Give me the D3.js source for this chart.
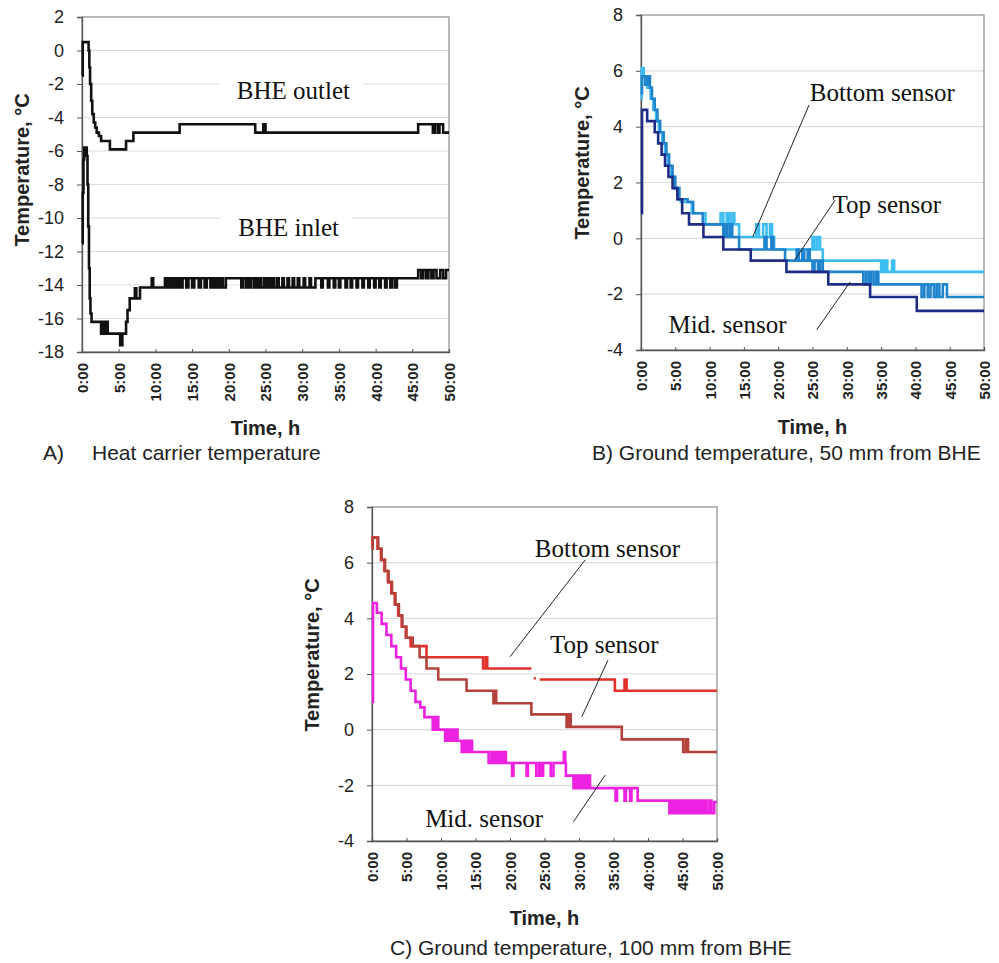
<!DOCTYPE html>
<html><head><meta charset="utf-8">
<script src="https://cdn.jsdelivr.net/npm/d3@7"></script>
<style>
body{margin:0;background:#fff}
svg text{font-family:Arial,"Liberation Sans",sans-serif}
</style></head><body>
<svg id="chart" width="999" height="963"></svg>
<script>
// ---------- data ----------
const timeTicks = [0,5,10,15,20,25,30,35,40,45,50];
const timeLabels = ["0:00","5:00","10:00","15:00","20:00","25:00","30:00","35:00","40:00","45:00","50:00"];
const tempTicksA = [2,0,-2,-4,-6,-8,-10,-12,-14,-16,-18];
const tempTicksBC = [8,6,4,2,0,-2,-4];

// Panel A: heat carrier temperature [time h, °C]
const outletA = [[0,-1.5],[0.1,0.5],[0.9,0.0],[1.0,-1.0],[1.1,-2.0],[1.25,-3.0],[1.4,-3.8],[1.6,-4.3],[1.8,-4.6],[2.0,-4.9],[2.3,-5.1],[2.6,-5.4],
 [3.8,-5.9],[6.0,-5.4],[7.0,-4.9],[13.3,-4.4],[23.6,-4.9],[24.7,-4.4],[25.0,-4.9],[45.8,-4.4],[47.8,-4.9],[48.1,-4.4],[48.5,-4.9],[48.7,-4.4],[49.2,-4.9],[50,-4.9]];
const inletA = [[0,-11.5],[0.1,-8.5],[0.2,-6.5],[0.3,-5.8],[0.65,-6.3],[0.75,-8],[0.85,-10.5],[0.95,-13],[1.05,-14.8],[1.15,-15.7],[1.3,-16.2],
 [2.6,-16.9],[2.9,-16.2],[3.1,-16.9],[3.3,-16.2],[3.5,-16.9],[5.2,-17.6],[5.5,-16.9],[6.0,-16.2],[6.2,-15.5],[6.5,-14.8],[7.2,-14.2],[7.4,-14.8],[7.9,-14.15],
 [9.5,-13.6],[9.7,-14.15],
 [11.3,-13.6],[11.5,-14.15],[11.7,-13.6],[11.9,-14.15],[12.0,-13.6],[12.3,-14.15],[12.5,-13.6],[12.6,-14.15],[12.8,-13.6],[13.1,-14.15],[13.3,-13.6],[13.6,-14.15],
 [13.7,-13.6],[14.2,-14.15],[14.5,-13.6],[15.0,-14.15],[15.3,-13.6],[15.9,-14.15],[16.2,-13.6],[16.7,-14.15],[17.0,-13.6],[17.5,-14.15],[17.8,-13.6],[18.1,-14.15],[18.4,-13.6],[18.6,-14.15],[18.9,-13.6],[19.2,-14.15],[19.6,-13.6],[21.7,-14.15],
 [21.9,-13.6],[22.3,-14.15],[22.5,-13.6],[22.8,-14.15],[23.0,-13.6],[23.4,-14.15],[23.6,-13.6],[23.9,-14.15],[24.1,-13.6],[24.4,-14.15],
 [24.8,-13.6],[25.1,-14.15],[25.4,-13.6],[25.6,-14.15],[25.9,-13.6],[26.2,-14.15],[26.6,-13.6],[26.8,-14.15],[27.3,-13.6],[27.5,-14.15],[28.0,-13.6],[28.2,-14.15],[28.7,-13.6],[28.9,-14.15],[29.4,-13.6],[29.6,-14.15],
 [30.2,-13.6],[30.4,-14.15],[31.0,-13.6],[31.2,-14.15],
 [31.8,-13.6],[32.6,-14.15],[32.8,-13.6],[33.5,-14.15],[33.7,-13.6],[34.3,-14.15],[34.5,-13.6],[35.0,-14.15],[35.2,-13.6],[35.9,-14.15],[36.1,-13.6],[36.6,-14.15],[36.8,-13.6],[37.4,-14.15],[37.6,-13.6],[38.2,-14.15],[38.4,-13.6],[39.0,-14.15],[39.2,-13.6],[39.8,-14.15],[40.0,-13.6],[40.5,-14.15],[40.7,-13.6],[41.3,-14.15],[41.5,-13.6],[42.0,-14.15],[42.2,-13.6],[42.6,-14.15],
 [42.9,-13.6],[45.8,-13.1],[46.2,-13.6],[46.5,-13.1],[46.9,-13.6],[47.2,-13.1],[47.6,-13.6],[47.9,-13.1],[48.3,-13.6],[48.8,-13.1],[49.2,-13.6],[49.6,-13.1],[50,-13.1]];

// Panel B: ground temperature 50 mm from BHE
const bottomB = [[0,5.0],[0.1,6.1],[0.4,5.8],[0.9,5.4],[1.4,5.0],[1.8,4.6],[2.2,4.2],[2.6,3.8],[3.1,3.4],[3.5,3.0],[3.9,2.6],[4.4,2.2],[4.8,1.8],[5.3,1.4],[5.8,1.3],[6.4,1.3],[7.4,0.9],
 [9.4,0.5],[11.6,0.9],[12.0,0.5],[12.5,0.9],[12.8,0.5],[13.2,0.9],[13.6,0.5],[14.3,0.05],[16.8,0.5],[17.2,0.05],[17.8,0.5],[18.3,0.05],[18.8,0.5],[19.1,0.05],
 [19.4,-0.4],[25.0,0.05],[25.3,-0.4],[25.7,0.05],[26.1,-0.4],[26.5,-0.8],[35.0,-1.2],[35.3,-0.8],[35.5,-1.2],[35.7,-0.8],[35.9,-1.2],[36.6,-0.8],[36.9,-1.2],[50,-1.2]];
const topB = [[0,5.2],[0.15,5.8],[0.6,5.5],[1.0,5.8],[1.3,5.4],[1.6,5.0],[2.0,4.6],[2.4,4.2],[2.8,3.8],[3.3,3.4],[3.7,3.0],[4.1,2.6],[4.6,2.2],[5.0,1.8],[5.6,1.4],[6.8,1.3],[7.6,0.9],
 [9.0,0.5],[12.0,0.05],[12.3,0.5],[12.6,0.05],[13.0,0.5],[13.3,0.05],[14.3,-0.4],[18.0,0.05],[18.3,-0.4],[19.0,0.05],[19.3,-0.4],[21.0,-0.8],[22.7,-0.4],[23.0,-0.8],[23.5,-0.4],[23.8,-0.8],[24.3,-0.4],[24.6,-0.8],
 [25.0,-1.2],[25.3,-0.8],[25.8,-1.2],[26.1,-0.8],[26.5,-1.2],[32.4,-1.65],[32.8,-1.2],[33.2,-1.65],[33.5,-1.2],[33.9,-1.65],[34.3,-1.2],[34.6,-1.65],
 [40.9,-2.1],[41.3,-1.65],[41.8,-2.1],[42.2,-1.65],[42.7,-2.1],[43.1,-1.65],[43.5,-2.1],[44.0,-1.65],[44.6,-2.1],[50,-2.1]];
const midB = [[0,0.9],[0.15,4.6],[0.9,4.2],[2.0,3.8],[2.5,3.4],[3.0,3.0],[3.5,2.6],[4.0,2.2],[4.6,1.8],[5.3,1.4],[6.0,0.9],[7.0,0.5],[9.1,0.05],[12.0,-0.4],[16.0,-0.8],[21.2,-1.2],[27.3,-1.65],[33.4,-2.1],[40.2,-2.6],[50,-2.6]];

// Panel C: ground temperature 100 mm from BHE (null = missing reading)
const bottomC = [[0,6.5],[0.1,6.9],[0.8,6.5],[1.3,6.1],[1.8,5.7],[2.3,5.3],[2.8,4.9],[3.3,4.5],[3.8,4.1],[4.3,3.7],[4.9,3.3],[5.6,3.0],[7.9,2.6],
 [16.1,2.2],[16.5,2.6],[16.7,2.2],[23.1,2.2],[23.15,null],[23.45,1.85],[23.75,1.85],[23.8,null],[24.3,1.8],[35.2,1.4],[36.6,1.8],[36.9,1.4],[50,1.4]];
const topC = [[0,6.5],[0.1,6.9],[0.9,6.5],[1.4,6.1],[1.9,5.7],[2.4,5.3],[2.9,4.9],[3.4,4.5],[3.9,4.1],[4.4,3.7],[5.0,3.3],[5.9,3.0],[6.9,2.6],[7.9,2.2],
 [9.6,1.8],[13.7,1.4],[17.6,0.95],[17.8,1.4],[18.0,0.95],[23.1,0.55],[28.2,0.1],[28.5,0.55],[28.8,0.1],[36.2,-0.35],[45.1,-0.8],[45.5,-0.35],[45.8,-0.8],[50,-0.8]];
const midC = [[0,1.0],[0.15,4.55],[0.7,4.2],[1.4,3.8],[2.1,3.4],[2.8,3.0],[3.5,2.6],[4.2,2.2],[4.9,1.8],[5.6,1.4],[6.3,1.0],[7.0,0.8],[7.6,0.45],
 [8.8,0.0],[9.0,0.45],[9.2,0.0],[9.4,0.45],[9.6,0.0],[10.6,-0.4],[10.9,0.0],[11.2,-0.4],[11.5,0.0],[11.8,-0.4],[12.1,0.0],[12.4,-0.4],
 [13.0,-0.8],[13.2,-0.4],[13.5,-0.8],[13.7,-0.4],[14.0,-0.8],[14.3,-0.4],[14.5,-0.8],[16.9,-1.2],[17.3,-0.8],[17.6,-1.2],[17.9,-0.8],[18.2,-1.2],[18.5,-0.8],[18.8,-1.2],[19.1,-0.8],[19.4,-1.2],
 [20.3,-1.65],[20.5,-1.2],[22.4,-1.65],[22.6,-1.2],[23.8,-1.65],[24.2,-1.2],[24.5,-1.65],[24.8,-1.2],[25.9,-1.65],[26.3,-1.2],[27.8,-0.8],[28.0,-1.2],[28.1,-1.65],
 [29.2,-2.1],[29.5,-1.65],[29.8,-2.1],[30.1,-1.65],[30.4,-2.1],[30.7,-1.65],[31.0,-2.1],[31.3,-1.65],[31.6,-2.1],
 [35.3,-2.55],[35.5,-2.1],[36.6,-2.55],[36.8,-2.1],[37.4,-2.55],[37.6,-2.1],[38.5,-2.55],
 [43.1,-3.0],[43.4,-2.55],[43.7,-3.0],[44.0,-2.55],[44.3,-3.0],[44.6,-2.55],[44.9,-3.0],[45.2,-2.55],[45.5,-3.0],[45.8,-2.55],[46.1,-3.0],[46.4,-2.55],[46.7,-3.0],[47.0,-2.55],[47.3,-3.0],[47.6,-2.55],[47.9,-3.0],[48.2,-2.55],[48.5,-3.0],[48.9,-2.55],[49.2,-3.0],[49.6,-2.6],[50,-2.6]];

// ---------- drawing ----------
const svg = d3.select("#chart");
const serif = '"Liberation Serif","Times New Roman",serif';

function panel(o){
  const x = d3.scaleLinear().domain([0,50]).range([o.left,o.right]);
  const y = d3.scaleLinear().domain([o.ticks[o.ticks.length-1], o.ticks[0]]).range([o.bottom,o.top]);
  const g = svg.append("g");
  // gridlines
  g.selectAll("line.grid").data(o.ticks.slice(1,-1)).enter().append("line")
    .attr("x1",o.left).attr("x2",o.right).attr("y1",d=>y(d)).attr("y2",d=>y(d))
    .attr("stroke","#dcdcdc").attr("stroke-width",1.2);
  // plot frame
  g.append("rect").attr("x",o.left).attr("y",o.top).attr("width",o.right-o.left).attr("height",o.bottom-o.top)
    .attr("fill","none").attr("stroke","#8a8a8a").attr("stroke-width",1.2);
  // y axis
  const ya = g.append("g").attr("transform",`translate(${o.left},0)`)
    .call(d3.axisLeft(y).tickValues(o.ticks).tickSize(5).tickPadding(13).tickFormat(d=>String(d)));
  ya.select(".domain").attr("stroke","#555").attr("stroke-width",1.3);
  ya.selectAll(".tick line").attr("stroke","#555");
  ya.selectAll("text").attr("font-size",18).attr("fill","#222").style("font-family","Arial,'Liberation Sans',sans-serif");
  // x axis
  const xa = g.append("g").attr("transform",`translate(0,${o.bottom})`)
    .call(d3.axisBottom(x).tickValues(timeTicks).tickSize(-3).tickFormat((d,i)=>timeLabels[i]));
  xa.select(".domain").attr("stroke","#555").attr("stroke-width",1.3);
  xa.selectAll(".tick line").attr("stroke","#555");
  xa.selectAll("text").attr("transform","rotate(-90)").attr("x",-11).attr("y",0).attr("dy","0.36em")
    .attr("text-anchor","end").attr("font-size",15).attr("font-weight","bold").attr("fill","#222")
    .style("font-family","Arial,'Liberation Sans',sans-serif");
  // axis titles
  g.append("text").attr("transform",`translate(${o.ytx},${o.yty}) rotate(-90)`).attr("text-anchor","middle")
    .attr("dy","0.35em").attr("font-size",20).attr("font-weight","bold").attr("fill","#222").text("Temperature, °C");
  g.append("text").attr("x",(o.left+o.right)/2).attr("y",o.xty).attr("text-anchor","middle")
    .attr("font-size",20).attr("font-weight","bold").attr("fill","#222").text("Time, h");
  // series
  const line = d3.line().defined(d=>d[1]!==null).x(d=>x(d[0])).y(d=>y(d[1])).curve(d3.curveStepAfter);
  const sg = g.append("g");
  o.series.forEach(s=>{
    sg.append("path").datum(s.data).attr("d",line).attr("fill","none")
      .attr("stroke",s.color).attr("stroke-width",s.w||2.6).attr("stroke-linejoin","miter");
  });
  // annotations
  o.notes.forEach(n=>{
    if(n.lead){
      g.append("line").attr("x1",x(n.lead[0])).attr("y1",y(n.lead[1])).attr("x2",x(n.lead[2])).attr("y2",y(n.lead[3]))
        .attr("stroke","#222").attr("stroke-width",1);
    }
    const t = g.append("text").attr("x",x(n.t)).attr("y",y(n.v)).attr("font-size",25)
      .style("font-family",serif).attr("fill","#111").text(n.text);
    if(n.box){
      const b = t.node().getBBox();
      g.insert("rect",()=>t.node()).attr("x",b.x-17).attr("y",b.y-2).attr("width",b.width+30).attr("height",b.height+4).attr("fill","#fff");
    }
  });
  return g;
}

panel({left:82,right:449,top:17,bottom:352,ticks:tempTicksA,ytx:22,yty:170,xty:435,
  series:[{data:outletA,color:"#111"},{data:inletA,color:"#111"}],
  notes:[{text:"BHE outlet",t:21.1,v:-2.9,box:true},{text:"BHE inlet",t:21.3,v:-11.05,box:true}]});

panel({left:641,right:984,top:15,bottom:350,ticks:tempTicksBC,ytx:582,yty:163,xty:434,
  series:[{data:bottomB,color:"#3dbdf0"},{data:topB,color:"#1f84cc"},{data:midB,color:"#1f2c86"}],
  notes:[{text:"Bottom sensor",t:24.6,v:4.92,lead:[24.5,4.78,16.3,0.06]},
         {text:"Top sensor",t:27.9,v:0.9,lead:[28.3,1.37,22.4,-0.78]},
         {text:"Mid. sensor",t:4.0,v:-3.4,lead:[25.6,-3.28,30.5,-1.56]}]});

panel({left:372,right:717,top:507,bottom:841,ticks:tempTicksBC,ytx:312,yty:655,xty:925,
  series:[{data:bottomC,color:"#e2302a"},{data:topC,color:"#b5423a"},{data:midC,color:"#ec22e0"}],
  notes:[{text:"Bottom sensor",t:23.6,v:6.21,lead:[30.9,6.1,20.0,2.62]},
         {text:"Top sensor",t:25.8,v:2.76,lead:[34.2,2.5,30.4,0.46]},
         {text:"Mid. sensor",t:7.7,v:-3.49,lead:[29.2,-3.31,33.8,-1.63]}]});

// captions
const cap = svg.append("g").attr("font-size",21).attr("fill","#222");
cap.append("text").attr("x",43).attr("y",460).text("A)");
cap.append("text").attr("x",92).attr("y",460).text("Heat carrier temperature");
cap.append("text").attr("x",592).attr("y",460).text("B) Ground temperature, 50 mm from BHE");
cap.append("text").attr("x",390).attr("y",955).text("C) Ground temperature, 100 mm from BHE");
</script></body></html>
